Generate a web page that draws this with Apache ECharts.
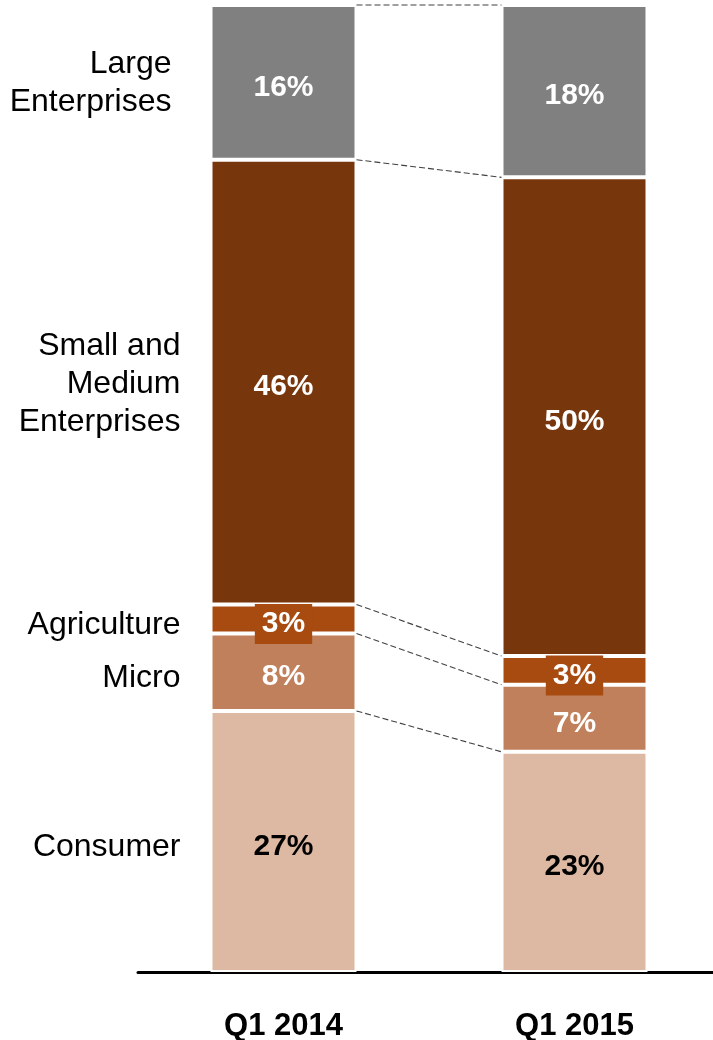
<!DOCTYPE html>
<html>
<head>
<meta charset="utf-8">
<title>Loan portfolio by segment</title>
<script src="https://cdn.jsdelivr.net/npm/echarts@6/dist/echarts.min.js"></script>
<style>
  html, body { margin: 0; padding: 0; background: #ffffff; }
  #chart { width: 713px; height: 1040px; }
</style>
</head>
<body>
<div id="chart"></div>
<script>
// Portfolio split by customer segment, share of total (%)
const periods = ['Q1 2014', 'Q1 2015'];
const segments = ['Consumer', 'Micro', 'Agriculture', 'Small and\nMedium\nEnterprises', 'Large\nEnterprises'];
const share2014 = [27, 8, 3, 46, 16];
const share2015 = [23, 7, 3, 50, 18];

// Styling
const segmentColors = ['#DDB8A3', '#C0805B', '#A84B10', '#77360B', '#808080'];
const valueLabelColors = ['#000000', '#ffffff', '#ffffff', '#ffffff', '#ffffff'];
// small per-name nudges [dx, dy] for the segment names on the left
const nameNudge = [[0, 6], [0, 6], [0, 6], [0, 2], [-9, 1]];
const FONT = '"Liberation Sans", Arial, Helvetica, sans-serif';
const BAR_WIDTH = 146;
const NAME_GAP = 30;

function runningTotal(arr) {
  let s = 0;
  return arr.map(function (v) { s += v; return s; });
}
const top2014 = runningTotal(share2014);
const top2015 = runningTotal(share2015);

const chart = echarts.init(document.getElementById('chart'), null, { renderer: 'canvas' });

// One stacked column per period; each period has its own value axis whose
// extent is the column total, so every column fills the full height.
function columnSeries(periodIdx, values) {
  return values.map(function (v, i) {
    const label = {
      show: true,
      position: 'inside',
      offset: [0, 5],
      formatter: '{c}%',
      fontFamily: FONT,
      fontSize: 30,
      fontWeight: 'bold',
      color: valueLabelColors[i]
    };
    if (i === 2) {
      label.backgroundColor = segmentColors[i];
      label.padding = [3, 7, 3, 7];
      label.lineHeight = 34;
    }
    return {
      type: 'bar',
      name: segments[i] + ' ' + periods[periodIdx],
      stack: 'period' + periodIdx,
      xAxisIndex: 0,
      yAxisIndex: periodIdx,
      barWidth: BAR_WIDTH,
      barGap: '-100%',
      z: i === 2 ? 4 : 2,
      silent: true,
      animation: false,
      data: periodIdx === 0 ? [v, '-'] : ['-', v],
      itemStyle: { color: segmentColors[i], borderColor: '#ffffff', borderWidth: 2 },
      label: label,
      emphasis: { disabled: true }
    };
  });
}

// Dashed connectors between matching segment boundaries of the two columns
const connectorSeries = {
  type: 'custom',
  xAxisIndex: 0,
  yAxisIndex: 0,
  silent: true,
  animation: false,
  z: 5,
  data: top2014.map(function (t, i) { return [0, t, top2015[i]]; }),
  encode: { x: 0, y: 1 },
  renderItem: function (params, api) {
    const left = api.coord([0, api.value(1)]);
    const rightX = api.coord([1, 0])[0] - BAR_WIDTH / 2;
    const rightY = chart.convertToPixel({ yAxisIndex: 1 }, api.value(2));
    return {
      type: 'line',
      shape: { x1: left[0] + BAR_WIDTH / 2, y1: left[1], x2: rightX, y2: rightY },
      style: { stroke: '#404040', lineWidth: 1.1, lineDash: [6, 3] }
    };
  }
};

// Segment names to the left of the first column, centred on each segment
const nameSeries = {
  type: 'custom',
  xAxisIndex: 0,
  yAxisIndex: 0,
  silent: true,
  animation: false,
  z: 5,
  data: share2014.map(function (v, i) { return [0, top2014[i] - v / 2]; }),
  encode: { x: 0, y: 1 },
  renderItem: function (params, api) {
    const p = api.coord([api.value(0), api.value(1)]);
    const nudge = nameNudge[params.dataIndex];
    return {
      type: 'text',
      x: p[0] - BAR_WIDTH / 2 - NAME_GAP + nudge[0],
      y: p[1] + nudge[1],
      style: {
        text: segments[params.dataIndex],
        fill: '#000000',
        font: '32px ' + FONT,
        align: 'right',
        verticalAlign: 'middle',
        lineHeight: 38
      }
    };
  }
};

const option = {
  backgroundColor: '#ffffff',
  animation: false,
  grid: { left: 138, width: 582, top: 5, bottom: 68, containLabel: false, outerBoundsMode: 'none' },
  xAxis: {
    type: 'category',
    data: periods,
    axisLine: { show: true, lineStyle: { color: '#000000', width: 3 } },
    axisTick: { show: false },
    axisLabel: {
      fontFamily: FONT,
      fontSize: 31,
      fontWeight: 'bold',
      color: '#000000',
      margin: 39
    },
    splitLine: { show: false }
  },
  yAxis: [
    { type: 'value', min: 0, max: top2014[top2014.length - 1], show: false, splitLine: { show: false } },
    { type: 'value', min: 0, max: top2015[top2015.length - 1], show: false, splitLine: { show: false } }
  ],
  series: columnSeries(0, share2014)
    .concat(columnSeries(1, share2015))
    .concat([connectorSeries, nameSeries])
};

chart.setOption(option);
</script>
</body>
</html>
